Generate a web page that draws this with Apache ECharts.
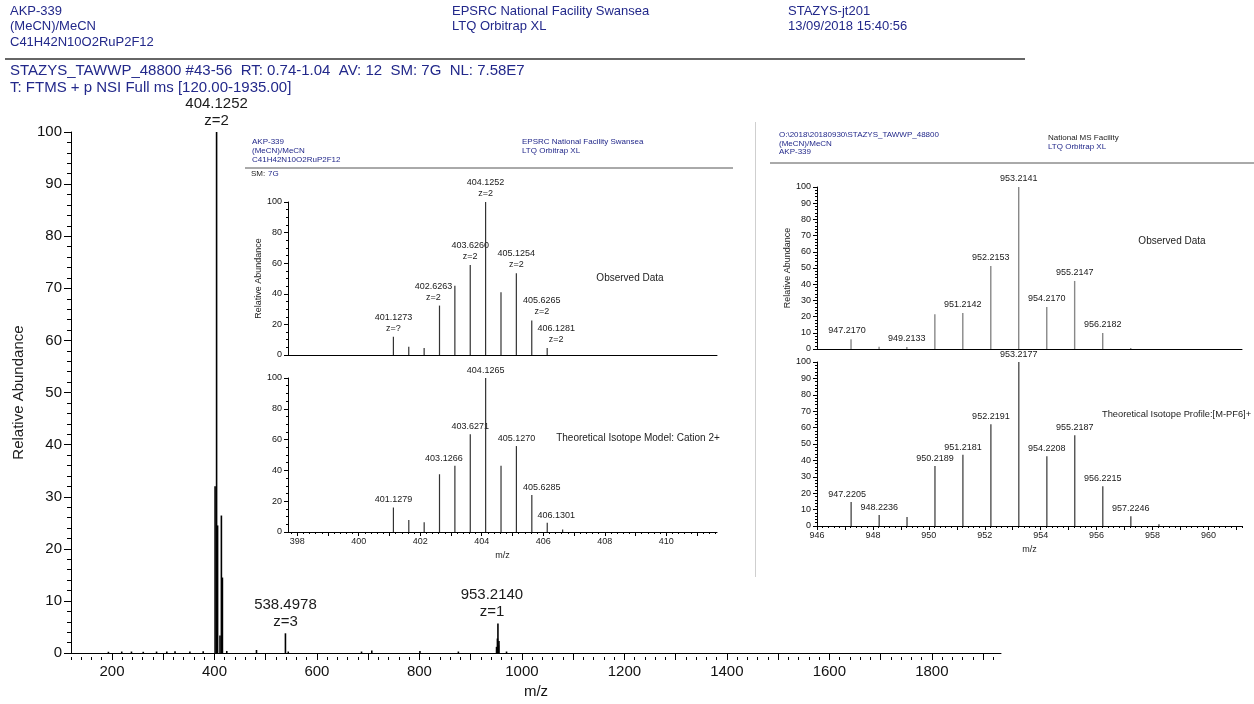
<!DOCTYPE html>
<html><head><meta charset="utf-8">
<script src="https://cdn.jsdelivr.net/npm/echarts@6/dist/echarts.min.js"></script>
<style>html,body{margin:0;padding:0;background:#fff}#c{width:1254px;height:704px}</style>
</head><body><div id="c"></div>
<script>
// ---------- DATA ----------
// Main full-scan spectrum (m/z, relative abundance, annotation)
const mainMz  = [193, 219, 238, 261, 287, 307, 323, 352, 378, 401.2, 404.13, 406.1, 410.8, 413.5, 415.5, 424, 482, 538.5, 544, 687, 707, 801, 876, 950.5, 952.2, 953.21, 954.2, 955.2, 970];
const mainInt = [0.25, 0.3, 0.3, 0.25, 0.3, 0.3, 0.35, 0.3, 0.35, 32, 100, 24.5, 3.4, 26.4, 14.5, 0.4, 0.6, 3.8, 0.3, 0.3, 0.5, 0.4, 0.3, 1.2, 2.8, 5.7, 1.5, 2.3, 0.3];
const mainLab = ['', '', '', '', '', '', '', '', '', '', '404.1252\nz=2', '', '', '', '', '', '', '538.4978\nz=3', '', '', '', '', '', '', '', '953.2140\nz=1', '', '', ''];

// Inset 1 - observed isotope cluster (cation 2+)
const obs1Mz  = [401.1273, 401.627, 402.127, 402.6263, 403.126, 403.6260, 404.1252, 404.626, 405.1254, 405.6265, 406.1281];
const obs1Int = [12, 5.4, 4.5, 32.3, 45.3, 58.8, 100, 41, 53.4, 22.6, 4.6];
const obs1Lab = ['401.1273\nz=?', '', '', '402.6263\nz=2', '', '403.6260\nz=2', '404.1252\nz=2', '', '405.1254\nz=2', '405.6265\nz=2', '406.1281\nz=2'];

// Inset 1 - theoretical isotope model
const theo1Mz  = [401.1279, 401.628, 402.128, 402.6264, 403.1266, 403.6271, 404.1265, 404.627, 405.1270, 405.6285, 406.1301, 406.63];
const theo1Int = [15.9, 7.8, 6.3, 37.5, 43.1, 63.4, 100, 43.1, 55.8, 24.1, 6, 1.7];
const theo1Lab = ['401.1279', '', '', '', '403.1266', '403.6271', '404.1265', '', '405.1270', '405.6285', '406.1301', ''];

// Inset 2 - observed [M-PF6]+
const obs2Mz  = [947.2170, 948.22, 949.2133, 950.215, 951.2142, 952.2153, 953.2141, 954.2170, 955.2147, 956.2182, 957.22];
const obs2Int = [6, 1.4, 1.2, 21.4, 22.2, 51.2, 100, 26, 42, 9.9, 0.6];
const obs2Lab = ['947.2170', '', '949.2133', '', '951.2142', '952.2153', '953.2141', '954.2170', '955.2147', '956.2182', ''];

// Inset 2 - theoretical isotope profile
const theo2Mz  = [947.2205, 948.2236, 949.22, 950.2189, 951.2181, 952.2191, 953.2177, 954.2208, 955.2187, 956.2215, 957.2246, 958.23];
const theo2Int = [14.6, 6.7, 5.5, 36.6, 43.5, 62, 100, 42.5, 55.3, 24.2, 5.9, 1];
const theo2Lab = ['947.2205', '948.2236', '', '950.2189', '951.2181', '952.2191', '953.2177', '954.2208', '955.2187', '956.2215', '957.2246', ''];

// Tick label values
const mainXLabels = [200, 400, 600, 800, 1000, 1200, 1400, 1600, 1800];
const in1XLabels = [398, 400, 402, 404, 406, 408, 410];
const in2XLabels = [946, 948, 950, 952, 954, 956, 958, 960];

// ---------- STYLE ----------
const FONT = 'Liberation Sans, Arial, Helvetica, sans-serif';
const NAVY = '#22288a';
const labelNudge = {'402.6263': -6, '405.6265': 10, '406.1281': 9, '403.1266': -11, '405.6285': 10, '406.1301': 9,
  '947.2170': -4, '947.2205': -4, '953.2140': -6};
const plain = v => String(v);

function range(a, b, s) { const r = []; for (let v = a; v <= b + 1e-9; v += s) r.push(Math.round(v * 1000) / 1000); return r; }

function sticks(ai, mz, inten, labels, o) {
  return {
    type: 'custom', xAxisIndex: ai, yAxisIndex: ai, clip: false, silent: true,
    data: mz.map((m, i) => [m, inten[i]]),
    encode: {x: 0, y: 1},
    renderItem: function (params, api) {
      const x = api.value(0), y = api.value(1);
      const p0 = api.coord([x, 0]), p1 = api.coord([x, y]);
      const ch = [{type: 'line', shape: {x1: p0[0], y1: p0[1], x2: p1[0], y2: p1[1]},
        style: {stroke: o.color, lineWidth: o.width}}];
      const lab = labels[params.dataIndex];
      if (lab) {
        const key = lab.split('\n')[0];
        ch.push({type: 'text', x: p1[0] + (labelNudge[key] || 0), y: p1[1] - o.gap,
          style: {text: lab, fontSize: o.fs, lineHeight: o.lh, fontFamily: FONT, fill: '#1a1a1a',
            align: 'center', verticalAlign: 'bottom'}});
      }
      return {type: 'group', children: ch};
    }
  };
}

function T(x, y, text, size, color, extra) {
  return Object.assign({type: 'text', x: x, y: y, silent: true,
    style: Object.assign({text: text, fontSize: size, fontFamily: FONT, fill: color, verticalAlign: 'middle', align: 'left'}, extra || {})});
}
function L(x1, y1, x2, y2, color, w) {
  return {type: 'line', silent: true, shape: {x1, y1, x2, y2}, style: {stroke: color, lineWidth: w}};
}

const grids = [
  {left: 71, top: 132, width: 930, height: 525},   // 0 main
  {left: 288, top: 202, width: 429, height: 153},  // 1 inset1 top
  {left: 288, top: 378, width: 429, height: 154},  // 2 inset1 bottom
  {left: 817, top: 187, width: 425, height: 162},  // 3 inset2 top
  {left: 817, top: 362, width: 425, height: 164},  // 4 inset2 bottom
  {left: 71, top: 132, width: 930, height: 525},   // 5 main minor ticks
  {left: 288, top: 378, width: 429, height: 154},  // 6 inset1 minor ticks
  {left: 817, top: 362, width: 425, height: 164}   // 7 inset2 minor ticks
].map(g => Object.assign({containLabel: false}, g));

const axLine = {show: true, lineStyle: {color: '#000', width: 1}};
const tickStyle = {color: '#000', width: 1};

const xAxes = [
  {gridIndex: 0, type: 'value', min: 120, max: 1935, axisLine: axLine, splitLine: {show: false},
    axisTick: {show: true, customValues: range(200, 1900, 100), length: 5, lineStyle: tickStyle},
    axisLabel: {customValues: mainXLabels, formatter: plain, fontSize: 15, color: '#111', fontFamily: FONT, margin: 11},
    name: 'm/z', nameLocation: 'middle', nameGap: 28, nameTextStyle: {fontSize: 15, color: '#111', fontFamily: FONT}},
  {gridIndex: 1, type: 'value', min: 397.7, max: 411.65, axisLine: axLine, splitLine: {show: false},
    axisTick: {show: false}, axisLabel: {show: false}},
  {gridIndex: 2, type: 'value', min: 397.7, max: 411.65, axisLine: axLine, splitLine: {show: false},
    axisTick: {show: true, customValues: range(398, 411, 1), length: 4, lineStyle: tickStyle},
    axisLabel: {customValues: in1XLabels, formatter: plain, fontSize: 9, color: '#222', fontFamily: FONT, margin: 5},
    name: 'm/z', nameLocation: 'middle', nameGap: 19, nameTextStyle: {fontSize: 9, color: '#222', fontFamily: FONT}},
  {gridIndex: 3, type: 'value', min: 946, max: 961.2, axisLine: axLine, splitLine: {show: false},
    axisTick: {show: false}, axisLabel: {show: false}},
  {gridIndex: 4, type: 'value', min: 946, max: 961.2, axisLine: axLine, splitLine: {show: false},
    axisTick: {show: true, customValues: range(946, 961, 1), length: 4, lineStyle: tickStyle},
    axisLabel: {customValues: in2XLabels, formatter: plain, fontSize: 9, color: '#222', fontFamily: FONT, margin: 5},
    name: 'm/z', nameLocation: 'middle', nameGap: 19, nameTextStyle: {fontSize: 9, color: '#222', fontFamily: FONT}},
  {gridIndex: 5, type: 'value', min: 120, max: 1935, axisLine: {show: false}, splitLine: {show: false},
    axisTick: {show: true, customValues: range(120, 1920, 20), length: 3, lineStyle: tickStyle}, axisLabel: {show: false}},
  {gridIndex: 6, type: 'value', min: 397.7, max: 411.65, axisLine: {show: false}, splitLine: {show: false},
    axisTick: {show: true, customValues: range(397.8, 411.6, 0.2), length: 2, lineStyle: tickStyle}, axisLabel: {show: false}},
  {gridIndex: 7, type: 'value', min: 946, max: 961.2, axisLine: {show: false}, splitLine: {show: false},
    axisTick: {show: true, customValues: range(946, 961.2, 0.2), length: 2, lineStyle: tickStyle}, axisLabel: {show: false}}
];

function yAx(gi, interval, split, fs, tl, name, gap, nfs) {
  const a = {gridIndex: gi, type: 'value', min: 0, max: 100, interval: interval, axisLine: axLine, splitLine: {show: false},
    axisTick: {show: true, length: tl, lineStyle: tickStyle},
    minorTick: {show: true, splitNumber: split, length: Math.max(2, tl - 3), lineStyle: tickStyle},
    axisLabel: {fontSize: fs, color: '#111', fontFamily: FONT, margin: tl + 2}};
  if (name) Object.assign(a, {name: name, nameLocation: 'middle', nameGap: gap, nameTextStyle: {fontSize: nfs, color: '#222', fontFamily: FONT}});
  return a;
}
const yAxes = [
  yAx(0, 10, 5, 15, 7, 'Relative Abundance', 38, 15),
  yAx(1, 20, 4, 9, 4, 'Relative Abundance', 24, 9),
  yAx(2, 20, 4, 9, 4),
  yAx(3, 10, 5, 9, 4, 'Relative Abundance', 25, 9),
  yAx(4, 10, 5, 9, 4),
  {gridIndex: 5, type: 'value', min: 0, max: 100, show: false},
  {gridIndex: 6, type: 'value', min: 0, max: 100, show: false},
  {gridIndex: 7, type: 'value', min: 0, max: 100, show: false}
];

const series = [
  sticks(0, mainMz, mainInt, mainLab, {color: '#000', width: 1.6, gap: 3, fs: 15, lh: 17}),
  sticks(1, obs1Mz, obs1Int, obs1Lab, {color: '#333', width: 1.2, gap: 3, fs: 9, lh: 11}),
  sticks(2, theo1Mz, theo1Int, theo1Lab, {color: '#333', width: 1.2, gap: 2, fs: 9, lh: 11}),
  sticks(3, obs2Mz, obs2Int, obs2Lab, {color: '#888', width: 1.4, gap: 3, fs: 9, lh: 11}),
  sticks(4, theo2Mz, theo2Int, theo2Lab, {color: '#444', width: 1.3, gap: 2, fs: 9, lh: 11})
];

const graphic = [
  // main header
  T(10, 11, 'AKP-339', 13, NAVY), T(10, 26, '(MeCN)/MeCN', 13, NAVY), T(10, 42, 'C41H42N10O2RuP2F12', 13, NAVY),
  T(452, 11, 'EPSRC National Facility Swansea', 13, NAVY), T(452, 26, 'LTQ Orbitrap XL', 13, NAVY),
  T(788, 11, 'STAZYS-jt201', 13, NAVY), T(788, 26, '13/09/2018 15:40:56', 13, NAVY),
  L(5, 59, 1025, 59, '#333', 1.5),
  T(10, 71, 'STAZYS_TAWWP_48800 #43-56  RT: 0.74-1.04  AV: 12  SM: 7G  NL: 7.58E7', 15, NAVY),
  T(10, 88, 'T: FTMS + p NSI Full ms [120.00-1935.00]', 15, NAVY),
  // inset 1 header
  T(252, 142, 'AKP-339', 8, NAVY), T(252, 151, '(MeCN)/MeCN', 8, NAVY), T(252, 160, 'C41H42N10O2RuP2F12', 8, NAVY),
  T(522, 142, 'EPSRC National Facility Swansea', 8, NAVY), T(522, 151, 'LTQ Orbitrap XL', 8, NAVY),
  L(245, 168, 733, 168, '#555', 1),
  T(251, 174, 'SM:', 8, '#222'), T(268, 174, '7G', 8, NAVY),
  T(630, 278, 'Observed Data', 10, '#222', {align: 'center'}),
  T(638, 438, 'Theoretical Isotope Model: Cation 2+', 10, '#222', {align: 'center'}),
  // separator
  L(755.5, 122, 755.5, 577, '#cfcfcf', 1),
  // inset 2 header
  T(779, 135, 'O:\\2018\\20180930\\STAZYS_TAWWP_48800', 8, NAVY), T(779, 143.5, '(MeCN)/MeCN', 8, NAVY), T(779, 152, 'AKP-339', 8, NAVY),
  T(1048, 138, 'National MS Facility', 8, '#222'), T(1048, 147, 'LTQ Orbitrap XL', 8, NAVY),
  L(770, 163, 1254, 163, '#555', 1),
  T(1172, 241, 'Observed Data', 10, '#222', {align: 'center'}),
  T(1102, 414, 'Theoretical Isotope Profile:[M-PF6]+', 9.3, '#222')
];

const chart = echarts.init(document.getElementById('c'), null, {renderer: 'canvas'});
chart.setOption({
  backgroundColor: '#fff', animation: false,
  grid: grids, xAxis: xAxes, yAxis: yAxes, series: series, graphic: graphic
});
</script></body></html>
